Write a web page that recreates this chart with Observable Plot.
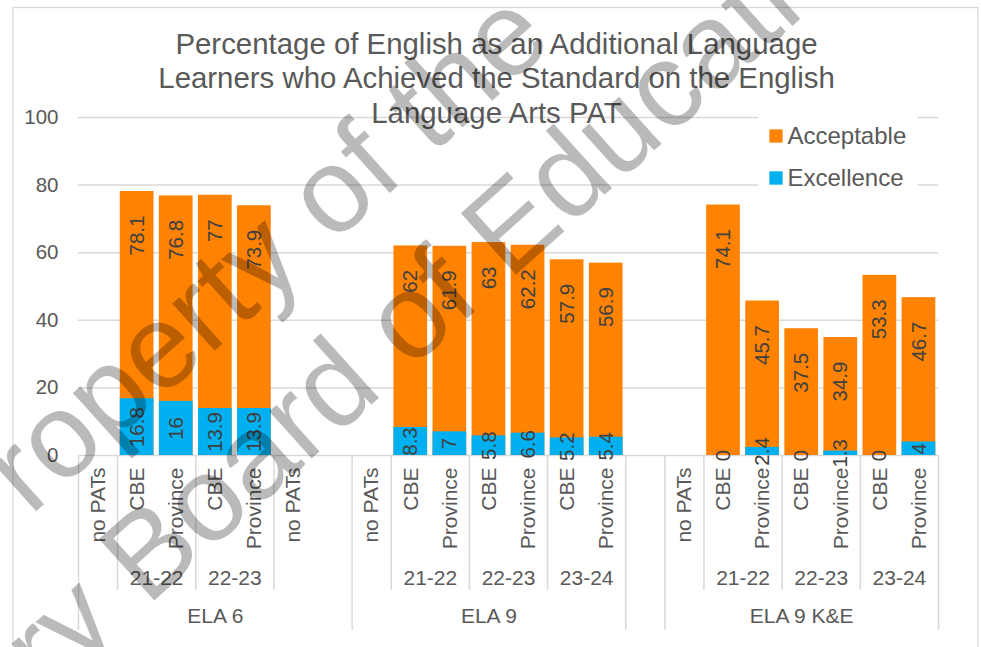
<!DOCTYPE html>
<html>
<head>
<meta charset="utf-8">
<script src="https://cdn.jsdelivr.net/npm/d3@7"></script>
<script src="https://cdn.jsdelivr.net/npm/@observablehq/plot@0.6"></script>
<style>
  html, body { margin: 0; padding: 0; background: #fff; }
</style>
</head>
<body>
<div id="chart"></div>
<script>
// ---- data ----
const titleLines = [
  "Percentage of English as an Additional Language",
  "Learners who Achieved the Standard on the English",
  "Language Arts PAT"
];
const watermarkLines = ["Property of the", "Calgary Board of Education"];
const series = ["Acceptable", "Excellence"];
const seriesColors = ["#FF8200", "#00B0F0"];
const yTicks = [0, 20, 40, 60, 80, 100];

const slotGroup = [
  "ELA 6", "ELA 6", "ELA 6", "ELA 6", "ELA 6", "ELA 6", "ELA 6",
  "ELA 9", "ELA 9", "ELA 9", "ELA 9", "ELA 9", "ELA 9", "ELA 9",
  "",
  "ELA 9 K&E", "ELA 9 K&E", "ELA 9 K&E", "ELA 9 K&E", "ELA 9 K&E", "ELA 9 K&E", "ELA 9 K&E"
];
const slotYear = [
  "", "21-22", "21-22", "22-23", "22-23", "", "",
  "", "21-22", "21-22", "22-23", "22-23", "23-24", "23-24",
  "",
  "", "21-22", "21-22", "22-23", "22-23", "23-24", "23-24"
];
const slotLabel = [
  "no PATs", "CBE", "Province", "CBE", "Province", "no PATs", "",
  "no PATs", "CBE", "Province", "CBE", "Province", "CBE", "Province",
  "",
  "no PATs", "CBE", "Province", "CBE", "Province", "CBE", "Province"
];
const acceptable = [
  null, 78.1, 76.8, 77, 73.9, null, null,
  null, 62, 61.9, 63, 62.2, 57.9, 56.9,
  null,
  null, 74.1, 45.7, 37.5, 34.9, 53.3, 46.7
];
const excellence = [
  null, 16.8, 16, 13.9, 13.9, null, null,
  null, 8.3, 7, 5.8, 6.6, 5.2, 5.4,
  null,
  null, 0, 2.4, 0, 1.3, 0, 4
];

// ---- derived tables ----
const n = slotLabel.length;
const slots = slotLabel.map((label, i) => ({
  i, label, year: slotYear[i], group: slotGroup[i],
  acc: acceptable[i], exc: excellence[i]
}));
const withData = slots.filter(d => d.acc != null);

function runs(arr) {
  const out = [];
  let s = 0;
  for (let i = 1; i <= arr.length; i++) {
    if (i === arr.length || arr[i] !== arr[s]) { out.push({value: arr[s], start: s, end: i}); s = i; }
  }
  return out;
}
const groupRuns = runs(slotGroup);
const yearRuns = runs(slotYear.map((y, i) => slotGroup[i] + "|" + y)).map(r => ({...r, value: r.value.split("|")[1]}));
const groupBounds = Array.from(new Set(groupRuns.flatMap(r => [r.start, r.end])));
const yearBounds = Array.from(new Set(yearRuns.filter(r => r.value !== "").flatMap(r => [r.start, r.end])))
  .filter(b => !groupBounds.includes(b));

const font = "'Liberation Sans', Arial, sans-serif";
const textGray = "#595959";
const labelGray = "#404040";
const gridGray = "#D9D9D9";

const chart = Plot.plot({
  width: 981,
  height: 647,
  marginLeft: 78,
  marginRight: 43,
  marginTop: 117,
  marginBottom: 192,
  style: { fontFamily: font, fontSize: "20.5px", background: "white", overflow: "visible" },
  x: { type: "linear", domain: [0, n], axis: null },
  y: { domain: [0, 100], axis: null },
  color: { domain: series, range: seriesColors },
  marks: [
    // chart border
    Plot.frame({ stroke: gridGray, strokeWidth: 1.3, insetLeft: -65.5, insetTop: -110, insetRight: -39.5, insetBottom: -215 }),
    // gridlines
    Plot.ruleY(yTicks, { stroke: gridGray, strokeWidth: 1.5 }),
    // y tick labels
    Plot.text(yTicks, { y: d => d, text: d => String(d), frameAnchor: "left", dx: -20, textAnchor: "end", lineAnchor: "middle", fill: textGray, fontSize: 20.5 }),
    // bars
    Plot.rect(withData, { x1: d => d.i, x2: d => d.i + 1, y1: () => 0, y2: "acc", fill: () => "Acceptable", insetLeft: 2.7, insetRight: 2.7 }),
    Plot.rect(withData, { x1: d => d.i, x2: d => d.i + 1, y1: () => 0, y2: "exc", fill: () => "Excellence", insetLeft: 2.7, insetRight: 2.7 }),
    // data labels
    Plot.text(withData, { x: d => d.i + 0.5, y: "acc", text: d => String(d.acc), rotate: -90, textAnchor: "end", lineAnchor: "middle", dy: 24, fill: labelGray, fontSize: 20.5 }),
    Plot.text(withData, { x: d => d.i + 0.5, y: d => d.exc / 2, text: d => String(d.exc), rotate: -90, textAnchor: "middle", lineAnchor: "middle", fill: labelGray, fontSize: 20.5 }),
    // category axis dividers
    Plot.ruleX(groupBounds, { x: d => d, stroke: gridGray, strokeWidth: 1.5, insetTop: 338, insetBottom: -175 }),
    Plot.ruleX(yearBounds, { x: d => d, stroke: gridGray, strokeWidth: 1.5, insetTop: 338, insetBottom: -135 }),
    // level 1 labels
    Plot.text(slots.filter(d => d.label), { x: d => d.i + 0.5, text: "label", frameAnchor: "bottom", dy: 12, rotate: -90, textAnchor: "end", lineAnchor: "middle", fill: textGray, fontSize: 21 }),
    // level 2 labels
    Plot.text(yearRuns.filter(r => r.value), { x: r => (r.start + r.end) / 2, text: "value", frameAnchor: "bottom", dy: 123, textAnchor: "middle", lineAnchor: "middle", fill: textGray, fontSize: 21 }),
    // level 3 labels
    Plot.text(groupRuns.filter(r => r.value), { x: r => (r.start + r.end) / 2, text: "value", frameAnchor: "bottom", dy: 161, textAnchor: "middle", lineAnchor: "middle", fill: textGray, fontSize: 21 }),
    // legend
    Plot.frame({ fill: "white", stroke: "none", insetLeft: 680, insetRight: 21, insetTop: -8, insetBottom: 258 }),
    ...series.map((s, k) => Plot.dot([s], { fill: d => d, symbol: "square", r: 7.5, frameAnchor: "top-right", dx: -162.5, dy: 18.5 + 42 * k })),
    ...series.map((s, k) => Plot.text([s], { text: d => d, frameAnchor: "top-right", dx: -151, dy: 18.5 + 42 * k, textAnchor: "start", lineAnchor: "middle", fill: textGray, fontSize: 24 })),
    // title
    Plot.text([titleLines.join("\n")], { text: d => d, frameAnchor: "top", dx: -12, dy: -88.2, textAnchor: "middle", lineAnchor: "top", lineHeight: 1.1735, fontSize: 29.4, fill: textGray }),
    // watermark
    Plot.text([watermarkLines.join("\n")], { text: d => d, frameAnchor: "top-left", dx: 280 - 78, dy: 326 - 117, rotate: -42, textAnchor: "middle", lineAnchor: "middle", fontSize: 120, lineHeight: 1.21, fill: "black", fillOpacity: 0.27 })
  ]
});
document.getElementById("chart").appendChild(chart);
</script>
</body>
</html>
